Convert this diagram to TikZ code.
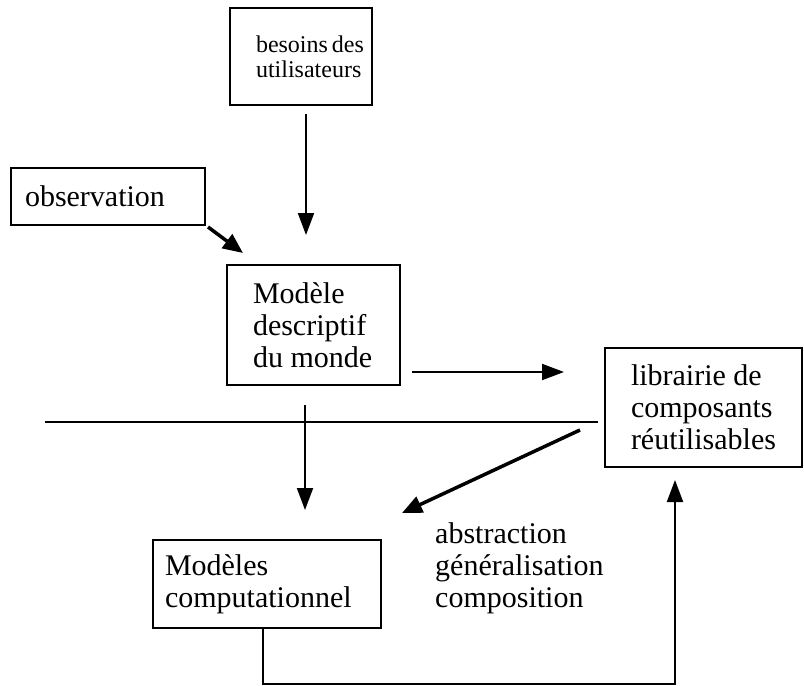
\documentclass[tikz,border=0pt]{standalone}
\usepackage{fontspec}
\setmainfont{Liberation Serif}
\usetikzlibrary{arrows.meta}

\begin{document}
\begin{tikzpicture}[x=1pt, y=-1pt,
        box/.style={draw, line width=2.2pt, align=flush left, inner ysep=0pt, outer sep=0pt,
                    font=\fontsize{30}{32}\selectfont},
        arr/.style={line width=2pt, -{Triangle[length=22pt, width=16pt]}},
        thickarr/.style={line width=3.5pt, -{Triangle[length=20pt, width=17pt]}}]
            \useasboundingbox (0,0) rectangle (804,686);

            % Boxes:
            \node[box, font=\fontsize{24}{25}\selectfont, inner xsep=26pt, text width=90pt,
                  minimum width=142pt, minimum height=97pt] (besoins) at (301,56.5)
                  {besoins~des\\utilisateurs};
            \node[box, inner xsep=14pt, text width=166pt,
                  minimum width=194pt, minimum height=57pt] (obs) at (108,196.5)
                  {observation};
            \node[box, inner xsep=26pt, text width=121pt,
                  minimum width=173pt, minimum height=120pt] (modele) at (313.5,325)
                  {Modèle\\descriptif\\du monde};
            \node[box, inner xsep=26pt, text width=145pt,
                  minimum width=197pt, minimum height=119pt] (lib) at (703.5,407.5)
                  {librairie de\\composants\\réutilisables};
            \node[box, inner xsep=12pt, text width=204pt,
                  minimum width=228pt, minimum height=88pt] (modeles) at (267,584)
                  {Modèles\\computationnel};
            \node[anchor=base west, align=left, inner sep=0pt,
                  font=\fontsize{30}{32}\selectfont] (ops) at (435,607)
                  {abstraction\\généralisation\\composition};

            % Separation:
            \draw[line width=2pt] (45,422) -- (598,422);

            % Arrows:
            \draw[arr] ([shift={(5,9)}]besoins.south) -- ([shift={(-7.5,-30)}]modele.north);
            \draw[thickarr] ([shift={(3,2)}]obs.south east) -- ([shift={(16,-12)}]modele.north west);
            \draw[arr] ([shift={(12,-13)}]modele.south east) -- ([shift={(-41,24)}]lib.north west);
            \draw[arr] ([shift={(-8.5,20)}]modele.south) -- ([shift={(38,-30)}]modeles.north);
            \draw[thickarr] ([shift={(-25,-37)}]lib.south west) -- ([shift={(21,-27)}]modeles.north east);
            \draw[arr] ([shift={(-4,0)}]modeles.south) -- ++(0,56) -| ([shift={(-28.5,13)}]lib.south);
        \end{tikzpicture}
\end{document}
